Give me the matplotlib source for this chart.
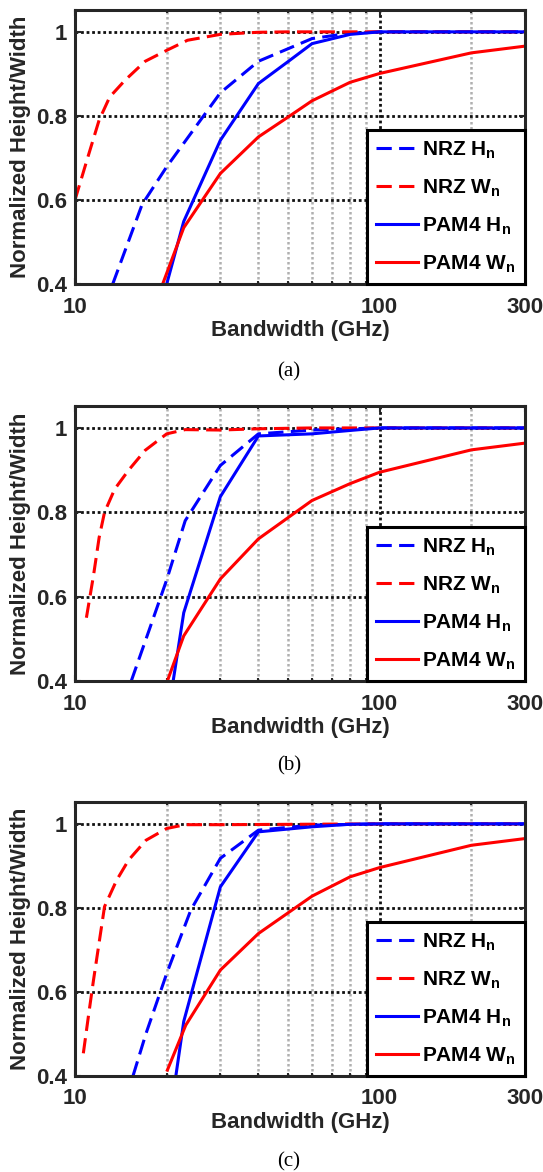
import matplotlib.pyplot as plt
from matplotlib.ticker import FixedLocator, NullFormatter

# fuentes tipo MATLAB (Helvetica negrita)
plt.rcParams['font.family'] = ['Liberation Sans', 'DejaVu Sans']
plt.rcParams['font.weight'] = 'bold'
plt.rcParams['axes.labelweight'] = 'bold'
plt.rcParams['mathtext.fontset'] = 'custom'
plt.rcParams['mathtext.rm'] = 'Liberation Sans:bold'
plt.rcParams['mathtext.it'] = 'Liberation Sans:bold'
plt.rcParams['mathtext.bf'] = 'Liberation Sans:bold'

# ---- datos panel (a) ----
a_nrz_h_x = [13.3, 16.6, 20, 22.75, 30, 40, 60, 80, 100, 300]
a_nrz_h_y = [0.40, 0.589, 0.679, 0.735, 0.855, 0.93, 0.984, 0.997, 1.0, 1.0]
a_nrz_w_x = [10, 11, 12, 13, 14.6, 17, 20, 23.4, 30, 40, 50, 100, 300]
a_nrz_w_y = [0.60, 0.70, 0.79, 0.845, 0.885, 0.93, 0.956, 0.98, 0.994, 0.999, 1.0, 1.0, 1.0]
a_pam_h_x = [20, 22.75, 30, 40, 50, 60, 80, 100, 200, 300]
a_pam_h_y = [0.40, 0.549, 0.742, 0.877, 0.929, 0.972, 0.994, 1.0, 1.0, 1.0]
a_pam_w_x = [19.4, 22.75, 30, 40, 50, 60, 80, 100, 200, 300]
a_pam_w_y = [0.40, 0.534, 0.663, 0.750, 0.797, 0.836, 0.880, 0.901, 0.950, 0.966]

# ---- datos panel (b) ----
b_nrz_h_x = [15.3, 17.5, 20, 23, 30, 40, 60, 100, 300]
b_nrz_h_y = [0.40, 0.52, 0.64, 0.78, 0.911, 0.986, 0.995, 1.0, 1.0]
b_nrz_w_x = [10.9, 11.5, 12, 12.5, 13.5, 15, 17, 20, 23, 30, 40, 60, 100, 300]
b_nrz_w_y = [0.55, 0.65, 0.74, 0.80, 0.855, 0.90, 0.947, 0.986, 0.996, 0.995, 0.998, 1.0, 1.0, 1.0]
b_pam_h_x = [21.0, 22.75, 30, 40, 60, 80, 100, 300]
b_pam_h_y = [0.40, 0.562, 0.837, 0.981, 0.986, 0.994, 1.0, 1.0]
b_pam_w_x = [20.1, 22.75, 30, 40, 60, 80, 100, 200, 300]
b_pam_w_y = [0.40, 0.507, 0.642, 0.737, 0.828, 0.868, 0.895, 0.948, 0.964]

# ---- datos panel (c) ----
c_nrz_h_x = [15.5, 17.1, 19, 20, 24, 30, 40, 60, 100, 300]
c_nrz_h_y = [0.40, 0.501, 0.597, 0.644, 0.795, 0.918, 0.985, 0.997, 1.0, 1.0]
c_nrz_w_x = [10.65, 11.1, 11.5, 12.5, 13.7, 15, 17.1, 20, 23, 30, 100, 300]
c_nrz_w_y = [0.454, 0.549, 0.628, 0.803, 0.866, 0.914, 0.961, 0.989, 0.998, 0.998, 1.0, 1.0]
c_pam_h_x = [20, 22.75, 30, 40, 60, 80, 100, 300]
c_pam_h_y = [0.25, 0.53, 0.85, 0.981, 0.993, 0.999, 1.0, 1.0]
c_pam_w_x = [20.1, 23.1, 30, 40, 60, 80, 100, 200, 300]
c_pam_w_y = [0.414, 0.521, 0.652, 0.739, 0.828, 0.874, 0.896, 0.949, 0.965]

etiquetas = ['NRZ H$_{n}$', 'NRZ W$_{n}$', 'PAM4 H$_{n}$', 'PAM4 W$_{n}$']
paneles = [
    ((a_nrz_h_x, a_nrz_h_y), (a_nrz_w_x, a_nrz_w_y), (a_pam_h_x, a_pam_h_y), (a_pam_w_x, a_pam_w_y)),
    ((b_nrz_h_x, b_nrz_h_y), (b_nrz_w_x, b_nrz_w_y), (b_pam_h_x, b_pam_h_y), (b_pam_w_x, b_pam_w_y)),
    ((c_nrz_h_x, c_nrz_h_y), (c_nrz_w_x, c_nrz_w_y), (c_pam_h_x, c_pam_h_y), (c_pam_w_x, c_pam_w_y)),
]
letras = ['(a)', '(b)', '(c)']

W, H = 543, 1172
fig = plt.figure(figsize=(W / 100, H / 100), dpi=100)
oscuro = '#262626'

# posiciones en pixeles: (arriba, abajo) de cada panel y la y del texto (a)/(b)/(c)
cajas = [(10, 284, 371.7), (406, 681, 766), (802, 1076, 1161.7)]

for datos, letra, (top, bot, ycap) in zip(paneles, letras, cajas):
    ax = fig.add_axes([75 / W, 1 - bot / H, 450 / W, (bot - top) / H])
    estilos = [('b', '--'), ('r', '--'), ('b', '-'), ('r', '-')]
    for (x, y), (c, ls), lab in zip(datos, estilos, etiquetas):
        ln, = ax.plot(x, y, color=c, lw=2.2, label=lab)
        if ls == '--':
            ln.set_dashes((5, 2.4))
    ax.set_xscale('log')
    ax.set_xlim(10, 300)
    ax.set_ylim(0.4, 1.052)
    ax.xaxis.set_major_locator(FixedLocator([10, 100, 300]))
    ax.xaxis.set_minor_locator(FixedLocator([20, 30, 40, 50, 60, 70, 80, 90, 200]))
    ax.xaxis.set_minor_formatter(NullFormatter())
    ax.set_xticklabels(['10', '100', '300'])
    ax.set_yticks([0.4, 0.6, 0.8, 1.0])
    ax.set_yticklabels(['0.4', '0.6', '0.8', '1'])
    ax.grid(which='major', color='#111111', linestyle=(0, (1, 1.0)), lw=2.0)
    ax.grid(which='minor', axis='x', color='#b0b0b0', linestyle=(0, (1, 1.0)), lw=1.8)
    ax.tick_params(which='both', direction='in', top=True, right=True, colors=oscuro, width=1.5)
    ax.tick_params(which='major', length=4, labelsize=16)
    ax.tick_params(which='minor', length=2)
    ax.tick_params(axis='x', pad=9)
    ax.tick_params(axis='y', pad=6)
    for s in ax.spines.values():
        s.set_linewidth(2.2)
        s.set_color(oscuro)
    ax.set_xlabel('Bandwidth (GHz)', fontsize=16, fontweight='bold', color=oscuro, va='center')
    ax.xaxis.set_label_coords(0.5, -0.168)
    ax.set_ylabel('Normalized Height/Width', fontsize=16, fontweight='bold', color=oscuro, va='center')
    ax.yaxis.set_label_coords(-0.122, 0.5)
    leg = ax.legend(loc='lower right', borderaxespad=0, fontsize=15, handlelength=2.0,
                    handletextpad=0.2, labelspacing=0.8, borderpad=0.45, fancybox=False,
                    framealpha=1, edgecolor='k')
    leg.get_frame().set_linewidth(2.2)
    for t in leg.get_texts():
        t.set_color('k')
    fig.text(289 / W, 1 - ycap / H, letra, family='Liberation Serif', weight='normal',
             fontsize=15, ha='center', va='center')

plt.savefig('out.png', dpi=100)
